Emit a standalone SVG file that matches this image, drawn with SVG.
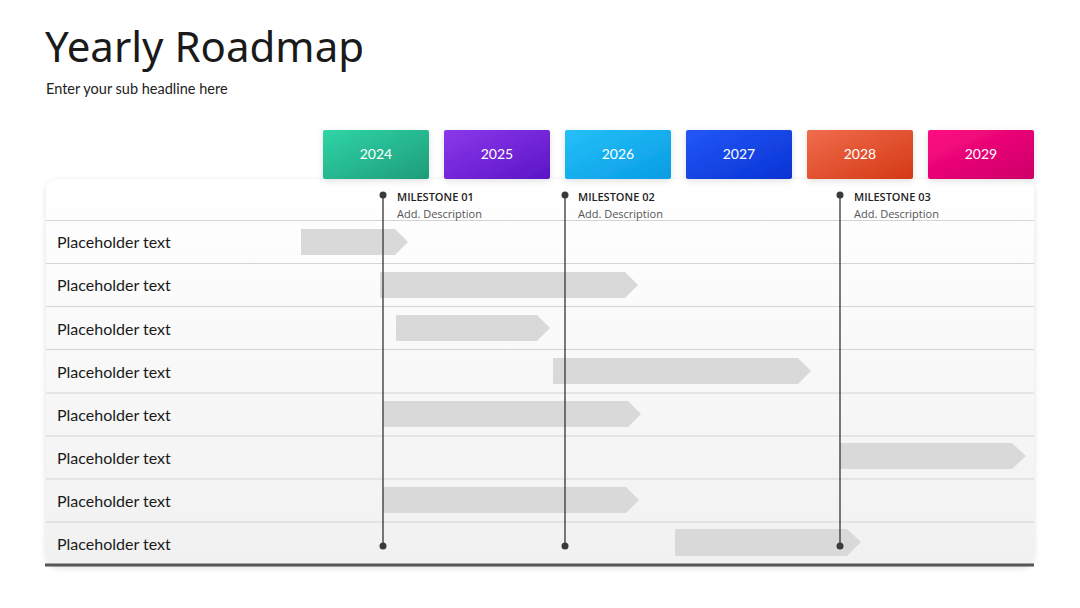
<svg xmlns="http://www.w3.org/2000/svg" width="1080" height="608" viewBox="0 0 1080 608">
<defs>
<linearGradient id="panel" x1="0" y1="0" x2="0" y2="1"><stop offset="0" stop-color="#ffffff"/><stop offset="1" stop-color="#f1f1f1"/></linearGradient>
<linearGradient id="g24" x1="0" y1="0" x2="1" y2="1"><stop offset="0" stop-color="#2fd5a6"/><stop offset="1" stop-color="#1e9c7a"/></linearGradient>
<linearGradient id="g25" x1="0" y1="0" x2="1" y2="1"><stop offset="0" stop-color="#8b38ea"/><stop offset="1" stop-color="#5b15c6"/></linearGradient>
<linearGradient id="g26" x1="0" y1="0" x2="1" y2="1"><stop offset="0" stop-color="#25c0f8"/><stop offset="1" stop-color="#089ce4"/></linearGradient>
<linearGradient id="g27" x1="0" y1="0" x2="1" y2="1"><stop offset="0" stop-color="#2358f6"/><stop offset="1" stop-color="#0833d4"/></linearGradient>
<linearGradient id="g28" x1="0" y1="0" x2="1" y2="1"><stop offset="0" stop-color="#f06c4c"/><stop offset="1" stop-color="#d43915"/></linearGradient>
<linearGradient id="g29" x1="0" y1="0" x2="1" y2="1"><stop offset="0" stop-color="#ff0a82"/><stop offset="1" stop-color="#cc0068"/></linearGradient>
<filter id="sh" x="-20%" y="-20%" width="140%" height="160%"><feDropShadow dx="0" dy="2" stdDeviation="3" flood-color="#000" flood-opacity="0.12"/></filter>
</defs>
<style>
.title{font-family:"Noto Sans","Open Sans",sans-serif;font-size:42px;fill:#1a1a1a}
.sub{font-family:Lato,"Open Sans",sans-serif;font-size:14.5px;fill:#222}
.row{font-family:Lato,"Open Sans",sans-serif;font-size:16px;fill:#1a1a1a}
.year{font-family:Lato,"Open Sans",sans-serif;font-size:14px;fill:#fff;text-anchor:middle}
.ms{font-family:"Open Sans","Noto Sans",sans-serif;font-size:11px;font-weight:600;fill:#222}
.desc{font-family:"Open Sans","Noto Sans",sans-serif;font-size:11px;fill:#555}
.rl{stroke:#d4d4d4;stroke-width:1.2}
.bar{fill:#d9d9d9}
.ml{stroke:#333;stroke-width:1.3}
.dot{fill:#3a3a3a}
</style>
<rect width="1080" height="608" fill="#fff"/>
<text class="title" x="45" y="62">Yearly Roadmap</text>
<text class="sub" x="46" y="94">Enter your sub headline here</text>

<g id="panel">
<rect x="46" y="179" width="988" height="387" rx="12" fill="url(#panel)" filter="url(#sh)"/>
<rect x="45" y="563.5" width="989" height="3" fill="#555"/>
</g>
<g id="rowlines">
<line class="rl" x1="46" y1="220.5" x2="1034" y2="220.5"/>
<line class="rl" x1="46" y1="263.5" x2="1034" y2="263.5"/>
<line class="rl" x1="46" y1="306.5" x2="1034" y2="306.5"/>
<line class="rl" x1="46" y1="349.5" x2="1034" y2="349.5"/>
<line class="rl" x1="46" y1="393" x2="1034" y2="393"/>
<line class="rl" x1="46" y1="436" x2="1034" y2="436"/>
<line class="rl" x1="46" y1="479" x2="1034" y2="479"/>
<line class="rl" x1="46" y1="522" x2="1034" y2="522"/>
</g>

<g id="years">
<g id="y2024"><rect x="323" y="130" width="106" height="49" rx="2" fill="url(#g24)" filter="url(#sh)"/><text class="year" x="376" y="159">2024</text></g>
<g id="y2025"><rect x="444" y="130" width="106" height="49" rx="2" fill="url(#g25)" filter="url(#sh)"/><text class="year" x="497" y="159">2025</text></g>
<g id="y2026"><rect x="565" y="130" width="106" height="49" rx="2" fill="url(#g26)" filter="url(#sh)"/><text class="year" x="618" y="159">2026</text></g>
<g id="y2027"><rect x="686" y="130" width="106" height="49" rx="2" fill="url(#g27)" filter="url(#sh)"/><text class="year" x="739" y="159">2027</text></g>
<g id="y2028"><rect x="807" y="130" width="106" height="49" rx="2" fill="url(#g28)" filter="url(#sh)"/><text class="year" x="860" y="159">2028</text></g>
<g id="y2029"><rect x="928" y="130" width="106" height="49" rx="2" fill="url(#g29)" filter="url(#sh)"/><text class="year" x="981" y="159">2029</text></g>
</g>

<g id="labels">
<text class="row" x="57" y="248">Placeholder text</text>
<text class="row" x="57" y="291">Placeholder text</text>
<text class="row" x="57" y="335">Placeholder text</text>
<text class="row" x="57" y="378">Placeholder text</text>
<text class="row" x="57" y="421">Placeholder text</text>
<text class="row" x="57" y="464">Placeholder text</text>
<text class="row" x="57" y="507">Placeholder text</text>
<text class="row" x="57" y="550">Placeholder text</text>
</g>

<g id="bars">
<polygon class="bar" points="301,229 395,229 408,242 395,255 301,255"/>
<polygon class="bar" points="380,272 625,272 638,285 625,298 380,298"/>
<polygon class="bar" points="396,315 537,315 550,328 537,341 396,341"/>
<polygon class="bar" points="553,358 798,358 811,371 798,384 553,384"/>
<polygon class="bar" points="383,401 628,401 641,414 628,427 383,427"/>
<polygon class="bar" points="840,443 1012,443 1026,456 1012,469 840,469"/>
<polygon class="bar" points="383,487 626,487 639,500 626,513 383,513"/>
<polygon class="bar" points="675,529 847,529 861,542 847,556 675,556"/>
</g>

<g id="connectors">
<line class="ml" x1="383" y1="195" x2="383" y2="546"/>
<line class="ml" x1="565" y1="195" x2="565" y2="546"/>
<line class="ml" x1="840" y1="195" x2="840" y2="546"/>
<circle class="dot" cx="383" cy="195" r="3.5"/><circle class="dot" cx="383" cy="546" r="3.5"/>
<circle class="dot" cx="565" cy="195" r="3.5"/><circle class="dot" cx="565" cy="546" r="3.5"/>
<circle class="dot" cx="840" cy="195" r="3.5"/><circle class="dot" cx="840" cy="546" r="3.5"/>
</g>

<g id="m1"><text class="ms" x="397" y="201">MILESTONE 01</text><text class="desc" x="397" y="218">Add. Description</text></g>
<g id="m2"><text class="ms" x="578" y="201">MILESTONE 02</text><text class="desc" x="578" y="218">Add. Description</text></g>
<g id="m3"><text class="ms" x="854" y="201">MILESTONE 03</text><text class="desc" x="854" y="218">Add. Description</text></g>
</svg>
